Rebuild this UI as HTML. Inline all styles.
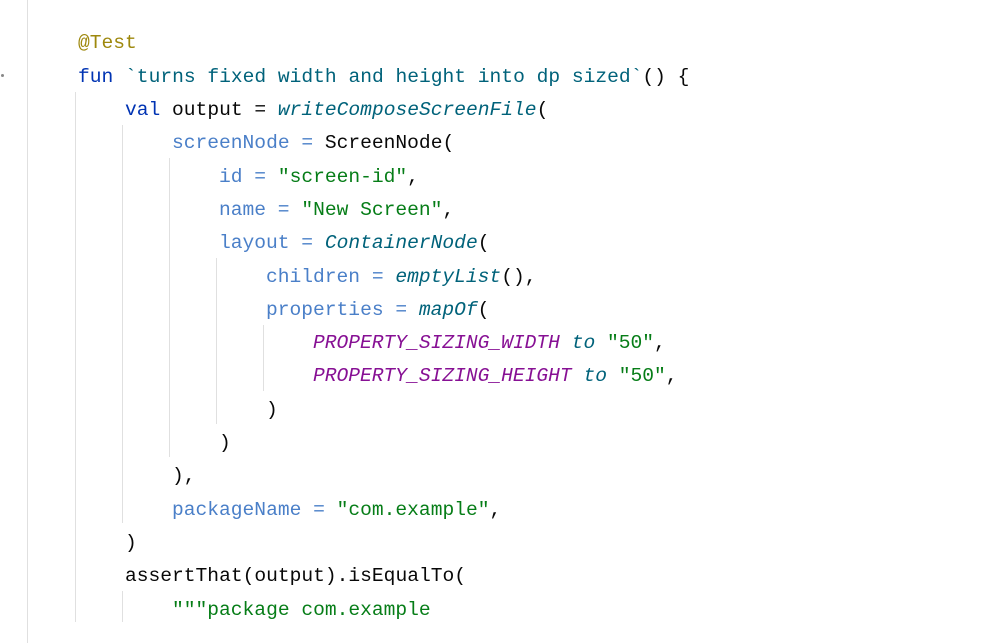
<!DOCTYPE html>
<html><head><meta charset="utf-8"><style>
html,body{margin:0;padding:0;background:#fff;width:1000px;height:643px;overflow:hidden}
body{position:relative;font-family:"Liberation Mono","DejaVu Sans Mono",monospace;font-size:19.6px;color:#080808}
.l{position:absolute;white-space:pre;height:33.3px;line-height:33.3px;margin-top:2px}
.g{position:absolute;width:1px;background:#e0e0e0}
.an{color:#9e880d}.kw{color:#0033b3}.fn{color:#00627a}.it{font-style:italic}
.na{color:#4a7fc8}.s{color:#067d17}.c{color:#871094;font-style:italic}
</style></head><body>
<div class="g" style="left:27px;top:0;height:643px"></div>
<div style="position:absolute;left:1px;top:74px;width:3px;height:3px;background:#888;border-radius:2px"></div>
<div class="g" style="left:75px;top:92px;height:530px"></div>
<div class="g" style="left:122px;top:125px;height:398px"></div>
<div class="g" style="left:122px;top:591px;height:31px"></div>
<div class="g" style="left:169px;top:158px;height:299px"></div>
<div class="g" style="left:216px;top:258px;height:166px"></div>
<div class="g" style="left:263px;top:325px;height:66px"></div>

<div class="l" style="left:78px;top:25.4px"><span class="an">@Test</span></div>
<div class="l" style="left:78px;top:58.7px"><span class="kw">fun</span> <span class="fn">`turns fixed width and height into dp sized`</span>() {</div>
<div class="l" style="left:125px;top:92px"><span class="kw">val</span> output = <span class="fn it">writeComposeScreenFile</span>(</div>
<div class="l" style="left:172px;top:125.3px"><span class="na">screenNode =</span> ScreenNode(</div>
<div class="l" style="left:219px;top:158.6px"><span class="na">id =</span> <span class="s">"screen-id"</span>,</div>
<div class="l" style="left:219px;top:191.9px"><span class="na">name =</span> <span class="s">"New Screen"</span>,</div>
<div class="l" style="left:219px;top:225.2px"><span class="na">layout =</span> <span class="fn it">ContainerNode</span>(</div>
<div class="l" style="left:266px;top:258.5px"><span class="na">children =</span> <span class="fn it">emptyList</span>(),</div>
<div class="l" style="left:266px;top:291.8px"><span class="na">properties =</span> <span class="fn it">mapOf</span>(</div>
<div class="l" style="left:313px;top:325.1px"><span class="c">PROPERTY_SIZING_WIDTH</span> <span class="fn it">to</span> <span class="s">"50"</span>,</div>
<div class="l" style="left:313px;top:358.4px"><span class="c">PROPERTY_SIZING_HEIGHT</span> <span class="fn it">to</span> <span class="s">"50"</span>,</div>
<div class="l" style="left:266px;top:391.7px">)</div>
<div class="l" style="left:219px;top:425px">)</div>
<div class="l" style="left:172px;top:458.3px">),</div>
<div class="l" style="left:172px;top:491.6px"><span class="na">packageName =</span> <span class="s">"com.example"</span>,</div>
<div class="l" style="left:125px;top:524.9px">)</div>
<div class="l" style="left:125px;top:558.2px">assertThat(output).isEqualTo(</div>
<div class="l" style="left:172px;top:591.5px"><span class="s">"""package com.example</span></div>
</body></html>
